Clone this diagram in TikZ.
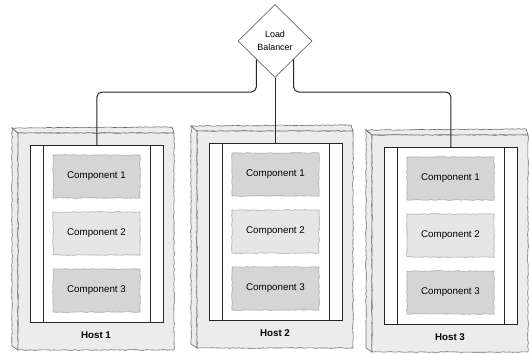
\documentclass[tikz,border=0pt]{standalone}
\usepackage{fontspec}
\setmainfont{Liberation Sans}
\usetikzlibrary{shapes.geometric,decorations.pathmorphing}
\definecolor{hostfill}{HTML}{ECECEC}
\definecolor{hostline}{HTML}{6A6A6A}
\definecolor{compdark}{HTML}{D5D5D5}
\definecolor{complight}{HTML}{E6E6E6}
\definecolor{compline}{HTML}{A8A8A8}
\definecolor{ink}{HTML}{262626}
\tikzset{
  sketch/.style={decorate,decoration={random steps,segment length=3pt,amplitude=0.35pt}},
  hostface/.style={fill=hostfill,draw=hostline,line width=0.6bp,sketch},
  panel/.style={fill=white,draw=ink,line width=0.8bp,inner sep=0pt,anchor=north west,
    minimum width=133bp,minimum height=177bp},
  comp/.style={draw=compline,line width=0.6bp,sketch,inner sep=0pt,
    minimum width=87bp,minimum height=43bp,font=\fontsize{9.8}{11}\selectfont},
  hostlabel/.style={font=\fontsize{9.8}{11}\selectfont\bfseries,inner sep=0pt},
  conn/.style={draw=ink,line width=1bp,rounded corners=5bp},
  lbstyle/.style={diamond,draw=hostline,fill=white,line width=0.7bp,inner sep=0pt,
    minimum width=74bp,minimum height=73bp,align=center,
    font=\fontsize{9}{13}\selectfont}
}
\newcommand\hostbox[4]{%
\begin{scope}[shift={(#2,#3)}]
  \path[hostface] (-6,-5) -- (0,0) -- (0,217) -- (-6,213) -- cycle;
  \path[hostface] (-6,-5) -- (154,-6) -- (156,0) -- (0,0) -- cycle;
  \path[hostface] (0,0) rectangle (156,217);
  \node[panel] (in#1) at (12,12) {};
  \draw[draw=ink,line width=0.8bp] (25,12) -- (25,189);
  \draw[draw=ink,line width=0.8bp] (132,12) -- (132,189);
  \node[comp,fill=compdark] (c#1a) at (78.5,43.5) {Component 1};
  \node[comp,fill=complight] (c#1b) at (78.5,100.5) {Component 2};
  \node[comp,fill=compdark] (c#1c) at (78.5,157.5) {Component 3};
  \node[hostlabel] (lbl#1) at (78,202) {#4};
\end{scope}}
\begin{document}
\begin{tikzpicture}[x=1bp,y=-1bp]
\pgfmathsetseed{7}
\useasboundingbox[fill=white] (0,0) rectangle (529,353);
\hostbox{1}{18}{133}{Host 1}
\hostbox{2}{197}{131}{Host 2}
\hostbox{3}{372}{135}{Host 3}
\node[lbstyle] (lb) at (275,41) {Load\\Balancer};
\coordinate (k1) at (in1.north |- 0,92);
\coordinate (k3) at (in3.north |- 0,92);
\draw[conn] (lb.south west) |- (k1) -- (in1.north);
\draw[conn] (lb.south east) |- (k3) -- (in3.north);
\draw[conn] (lb.south) -- (lb.south |- in2.north);
\end{tikzpicture}
\end{document}
